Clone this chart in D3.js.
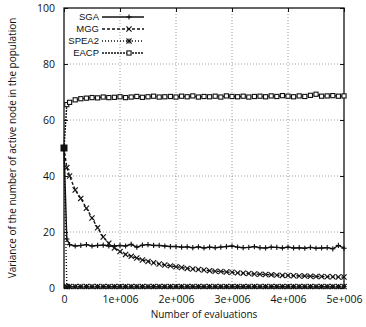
<!DOCTYPE html>
<html>
<head>
<meta charset="utf-8">
<script src="https://cdn.jsdelivr.net/npm/d3@7"></script>
<style>
  body { margin: 0; background: #fff; }
  svg { font-family: "Open Sans", sans-serif; }
</style>
</head>
<body>
<div id="chart-area"></div>
<script>
// data
var evals = [0, 50000, 100000, 200000, 300000, 400000, 500000, 600000, 700000, 800000, 900000,
  1000000, 1100000, 1200000, 1300000, 1400000, 1500000, 1600000, 1700000, 1800000, 1900000,
  2000000, 2100000, 2200000, 2300000, 2400000, 2500000, 2600000, 2700000, 2800000, 2900000,
  3000000, 3100000, 3200000, 3300000, 3400000, 3500000, 3600000, 3700000, 3800000, 3900000,
  4000000, 4100000, 4200000, 4300000, 4400000, 4500000, 4600000, 4700000, 4800000, 4900000, 5000000];

var sga = [50, 17.5, 15.5, 15, 15.2, 15.5, 15, 15.2, 15.3, 15, 15,
  15.2, 15, 15.6, 14.6, 15.3, 15.5, 15.2, 15.2, 15, 14.8,
  14.8, 14.6, 14.7, 14.4, 14.7, 14.3, 14.6, 14.4, 14.6, 14.8,
  15, 14.6, 14.4, 14.5, 14.8, 14.4, 14.3, 14.6, 14.5, 14.3,
  14.6, 14.3, 14.4, 14.2, 14.5, 14.2, 14.3, 14.4, 14, 15.2, 14.2];

var mgg = [50, 43, 40, 35, 32, 28.5, 25, 21.5, 18.2, 16, 14.3,
  13, 12, 11.3, 10.7, 10, 9.5, 9, 8.6, 8.2, 7.9,
  7.6, 7.3, 7, 6.8, 6.6, 6.4, 6.2, 6, 5.9, 5.7,
  5.6, 5.4, 5.3, 5.2, 5, 4.9, 4.8, 4.7, 4.6, 4.5,
  4.5, 4.4, 4.3, 4.3, 4.2, 4.1, 4.1, 4, 4, 3.9, 3.9];

var spea2 = [50, 0.5, 0.5, 0.5, 0.5, 0.5, 0.5, 0.5, 0.5, 0.5, 0.5,
  0.5, 0.5, 0.5, 0.5, 0.5, 0.5, 0.5, 0.5, 0.5, 0.5,
  0.5, 0.5, 0.5, 0.5, 0.5, 0.5, 0.5, 0.5, 0.5, 0.5,
  0.5, 0.5, 0.5, 0.5, 0.5, 0.5, 0.5, 0.5, 0.5, 0.5,
  0.5, 0.5, 0.5, 0.5, 0.5, 0.5, 0.5, 0.5, 0.5, 0.5, 0.5];

var eacp = [50, 65.5, 66.3, 67.2, 67.6, 67.8, 68, 67.9, 68.2, 68, 68.1,
  68.3, 68, 68.2, 68.4, 68.1, 68.3, 68.5, 68.2, 68.3, 68.4,
  68.2, 68.5, 68.3, 68.6, 68.2, 68.4, 68.3, 68.5, 68.2, 68.6,
  68.4, 68.3, 68.5, 68.2, 68.4, 68.5, 68.3, 68.6, 68.4, 68.7,
  68.5, 68.3, 68.6, 68.4, 68.8, 69.2, 68.5, 68.6, 68.7, 68.5, 68.6];

var seriesNames = ['SGA', 'MGG', 'SPEA2', 'EACP'];
var seriesVals = [sga, mgg, spea2, eacp];
var xTicks = [0, 1000000, 2000000, 3000000, 4000000, 5000000];
var yTicks = [0, 20, 40, 60, 80, 100];

var def = {
  width: 366,
  height: 327,
  left: 64,
  top: 8,
  plotW: 280,
  plotH: 280
};

var svg = d3.select('#chart-area').append('svg')
  .attr('width', def.width)
  .attr('height', def.height);

var g = svg.append('g')
  .attr('transform', 'translate(' + def.left + ',' + def.top + ')');

var x = d3.scaleLinear().domain([0, 5000000]).range([0, def.plotW]);
var y = d3.scaleLinear().domain([0, 100]).range([def.plotH, 0]);

var fmtX = function(d) { return d === 0 ? '0' : (d / 1e6) + 'e+006'; };

// grid
g.append('g').selectAll('line').data(xTicks.slice(1, -1)).enter().append('line')
  .attr('x1', d => x(d)).attr('x2', d => x(d))
  .attr('y1', 0).attr('y2', def.plotH)
  .attr('stroke', '#888').attr('stroke-width', 0.8).attr('stroke-dasharray', '1,2');
g.append('g').selectAll('line').data(yTicks.slice(1, -1)).enter().append('line')
  .attr('y1', d => y(d)).attr('y2', d => y(d))
  .attr('x1', 0).attr('x2', def.plotW)
  .attr('stroke', '#888').attr('stroke-width', 0.8).attr('stroke-dasharray', '1,2');

// axes, ticks pointing inward
var xAx = d3.axisBottom(x).tickValues(xTicks).tickFormat(fmtX).tickSizeInner(-4).tickSizeOuter(0).tickPadding(8);
var yAx = d3.axisLeft(y).tickValues(yTicks).tickSizeInner(-4).tickSizeOuter(0).tickPadding(9);
var xTop = d3.axisTop(x).tickValues(xTicks).tickFormat('').tickSizeInner(-4).tickSizeOuter(0);
var yRight = d3.axisRight(y).tickValues(yTicks).tickFormat('').tickSizeInner(-4).tickSizeOuter(0);

g.append('g').attr('transform', 'translate(0,' + def.plotH + ')').call(xAx);
g.append('g').call(yAx);
g.append('g').call(xTop);
g.append('g').attr('transform', 'translate(' + def.plotW + ',0)').call(yRight);
g.selectAll('.domain').remove();
g.selectAll('.tick text').attr('font-size', '10.5px').attr('fill', '#111')
  .attr('font-family', '"Open Sans", sans-serif');
g.selectAll('.tick line').attr('stroke', '#111');

g.append('rect')
  .attr('width', def.plotW).attr('height', def.plotH)
  .attr('fill', 'none').attr('stroke', '#111').attr('stroke-width', 1.3);

// marker drawing
function marker(sel, kind, s) {
  if (kind === 'plus' || kind === 'star') {
    sel.append('line').attr('x1', -s).attr('x2', s).attr('y1', 0).attr('y2', 0);
    sel.append('line').attr('x1', 0).attr('x2', 0).attr('y1', -s).attr('y2', s);
  }
  if (kind === 'cross' || kind === 'star') {
    sel.append('line').attr('x1', -s).attr('x2', s).attr('y1', -s).attr('y2', s);
    sel.append('line').attr('x1', -s).attr('x2', s).attr('y1', s).attr('y2', -s);
  }
  if (kind === 'square') {
    sel.append('rect').attr('x', -s * 0.8).attr('y', -s * 0.8)
      .attr('width', s * 1.6).attr('height', s * 1.6).attr('fill', '#fff');
  }
}

var styles = [
  { dash: null, marker: 'plus' },
  { dash: '3,2', marker: 'cross' },
  { dash: '1,2', marker: 'star' },
  { dash: '2,1', marker: 'square' }
];

var line = d3.line().x(d => x(d[0])).y(d => y(d[1]));

// draw series (SGA on top)
[3, 2, 1, 0].forEach(function(k) {
  var pts = evals.map((e, i) => [e, seriesVals[k][i]]);
  g.append('path')
    .datum(pts)
    .attr('d', line)
    .attr('fill', 'none')
    .attr('stroke', '#111')
    .attr('stroke-width', 1.4)
    .attr('stroke-dasharray', styles[k].dash);
  var m = g.append('g').selectAll('g').data(pts).enter().append('g')
    .attr('transform', d => 'translate(' + x(d[0]) + ',' + y(d[1]) + ')')
    .attr('stroke', '#111').attr('stroke-width', 1.1);
  m.each(function() { marker(d3.select(this), styles[k].marker, 2.6); });
});

// start point marker
g.append('rect')
  .attr('x', x(0) - 3.5).attr('y', y(50) - 3.5)
  .attr('width', 7).attr('height', 7).attr('fill', '#111');

// legend
var legend = g.append('g').attr('transform', 'translate(0,0)');
seriesNames.forEach(function(name, i) {
  var row = legend.append('g').attr('transform', 'translate(0,' + (9 + i * 12) + ')');
  row.append('text')
    .attr('x', 35).attr('y', 0)
    .attr('dy', '0.35em')
    .attr('text-anchor', 'end')
    .attr('font-size', '9.5px')
    .attr('font-family', '"Liberation Sans", sans-serif')
    .attr('fill', '#111')
    .text(name);
  row.append('line')
    .attr('x1', 38).attr('x2', 80).attr('y1', 0).attr('y2', 0)
    .attr('stroke', '#111').attr('stroke-width', 1.3)
    .attr('stroke-dasharray', styles[i].dash);
  var mk = row.append('g').attr('transform', 'translate(65,0)')
    .attr('stroke', '#111').attr('stroke-width', 1.1);
  marker(mk, styles[i].marker, 2.6);
});

// axis labels
svg.append('text')
  .attr('x', def.left + def.plotW / 2)
  .attr('y', 318)
  .attr('text-anchor', 'middle')
  .attr('font-size', '10px')
  .attr('fill', '#111')
  .text('Number of evaluations');

svg.append('text')
  .attr('transform', 'translate(16,' + (def.top + def.plotH / 2) + ') rotate(-90)')
  .attr('text-anchor', 'middle')
  .attr('font-size', '10px')
  .attr('fill', '#111')
  .text('Variance of the number of active node in the population');
</script>
</body>
</html>
